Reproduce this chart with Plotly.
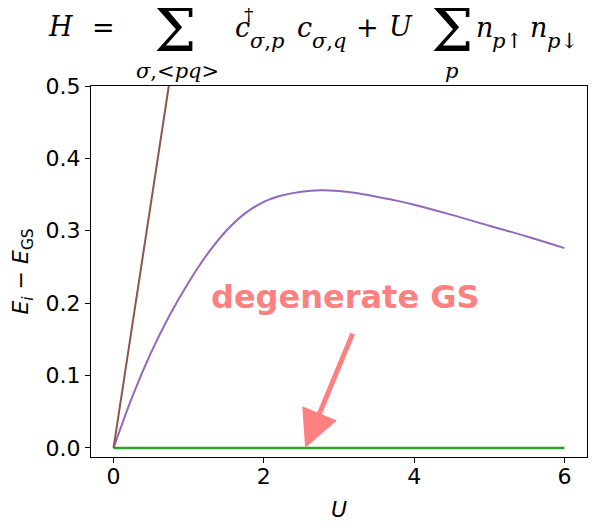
import plotly.graph_objects as go

# ---- data ----
u_gs = [0.0, 6.0]
e_gs = [0.0, 0.0]

u_purple = [0.0, 0.25, 0.5, 0.75, 1.0, 1.25, 1.5, 1.75, 2.0, 2.25, 2.5, 2.75,
            3.0, 3.25, 3.5, 3.75, 4.0, 4.5, 5.0, 5.5, 6.0]
e_purple = [0.0, 0.071, 0.132, 0.184, 0.229, 0.268, 0.300, 0.324, 0.340, 0.349,
            0.354, 0.356, 0.355, 0.352, 0.347, 0.342, 0.336, 0.322, 0.307, 0.292, 0.276]

u_brown = [0.0, 0.5, 1.0]
e_brown = [0.0, 0.34, 0.68]

x_ticks = [0, 2, 4, 6]
y_ticks = [0.0, 0.1, 0.2, 0.3, 0.4, 0.5]
y_tick_text = ["0.0", "0.1", "0.2", "0.3", "0.4", "0.5"]

# page has an 8px body margin: the figure is drawn 8px right/down
OFF = 8
W, H = 597 - OFF, 529 - OFF
ML, MR, MT, MB = 91 - OFF, 10, 86 - OFF, 72
PW, PH = W - ML - MR, H - MT - MB


def px(x):
    return (x - OFF - ML) / PW


def py(y):
    return (H - MB - (y - OFF)) / PH


fig = go.Figure()
fig.add_trace(go.Scatter(x=u_gs, y=e_gs, mode="lines",
                         line=dict(color="#2ca02c", width=2.5), showlegend=False))
fig.add_trace(go.Scatter(x=u_purple, y=e_purple, mode="lines", line_shape="spline",
                         line=dict(color="#9467bd", width=2), showlegend=False))
fig.add_trace(go.Scatter(x=u_brown, y=e_brown, mode="lines",
                         line=dict(color="#8c564b", width=2), showlegend=False))

SERIF = "DejaVu Serif"
ann = []


def txt(text, x, y, size, xanchor="left", yanchor="middle", family=SERIF):
    ann.append(dict(text=text, x=px(x), y=py(y), xref="paper", yref="paper",
                    xanchor=xanchor, yanchor=yanchor, showarrow=False,
                    borderpad=0, font=dict(family=family, size=size, color="black")))


BIG = 27
SUB = 21
SUBY = 41
txt("<i>H</i>", 47, 26, BIG)
txt("=", 91, 27, BIG)
txt("Σ", 175, 30, 60, xanchor="center")
txt("<i>σ</i>,&lt;<i>pq</i>&gt;", 177, 71, 21, xanchor="center")
txt("<i>c</i>", 234, 28, BIG)
txt("†", 249, 14, 19, xanchor="center")
txt("<i>σ</i>,<i>p</i>", 249, SUBY, SUB)
txt("<i>c</i>", 296, 28, BIG)
txt("<i>σ</i>,<i>q</i>", 311, SUBY, SUB)
txt("+", 355, 27, BIG)
txt("<i>U</i>", 388, 26, BIG)
txt("Σ", 452, 30, 60, xanchor="center")
txt("<i>p</i>", 451, 71, 21, xanchor="center")
txt("<i>n</i>", 475, 28, BIG)
txt("<i>p</i>↑", 491, SUBY, SUB)
txt("<i>n</i>", 529, 28, BIG)
txt("<i>p</i>↓", 546, SUBY, SUB)

# arrow and label
ann.append(dict(x=2.55, y=0.0, xref="x", yref="y", ax=3.19, ay=0.16,
                axref="x", ayref="y", text="", showarrow=True,
                arrowhead=2, arrowsize=1.5, arrowwidth=5, arrowcolor="#ff8080"))
ann.append(dict(x=3.087, y=0.208, xref="x", yref="y", text="degenerate GS",
                showarrow=False, xanchor="center", yanchor="middle",
                font=dict(family="DejaVu Sans", size=32, color="#ff8080", weight="bold")))

fig.update_layout(
    width=W, height=H,
    margin=dict(l=ML, r=MR, t=MT, b=MB, autoexpand=False),
    paper_bgcolor="white", plot_bgcolor="white",
    annotations=ann,
    font=dict(family="DejaVu Sans", size=22, color="black"),
)
fig.update_xaxes(range=[-0.3, 6.3], tickvals=x_ticks, ticks="outside", ticklen=5,
                 tickwidth=1, tickcolor="black", showline=True, mirror=True,
                 linecolor="black", linewidth=1, showgrid=False, zeroline=False,
                 automargin=False, ticklabelstandoff=-5,
                 tickfont=dict(family="DejaVu Sans", size=22),
                 title=dict(text="<i>U</i>", standoff=13,
                            font=dict(family="DejaVu Sans", size=22)))
fig.update_yaxes(range=[-0.0125, 0.5], tickvals=y_ticks, ticktext=y_tick_text,
                 ticks="outside", ticklen=5, tickwidth=1, tickcolor="black",
                 showline=True, mirror=True, linecolor="black", linewidth=1,
                 showgrid=False, zeroline=False, automargin=False,
                 tickfont=dict(family="DejaVu Sans", size=22),
                 title=dict(text="<i>E<sub>i</sub></i> − <i>E</i><sub>GS</sub>",
                            standoff=12, font=dict(family="DejaVu Sans", size=22)))

fig.write_html("out.html")
